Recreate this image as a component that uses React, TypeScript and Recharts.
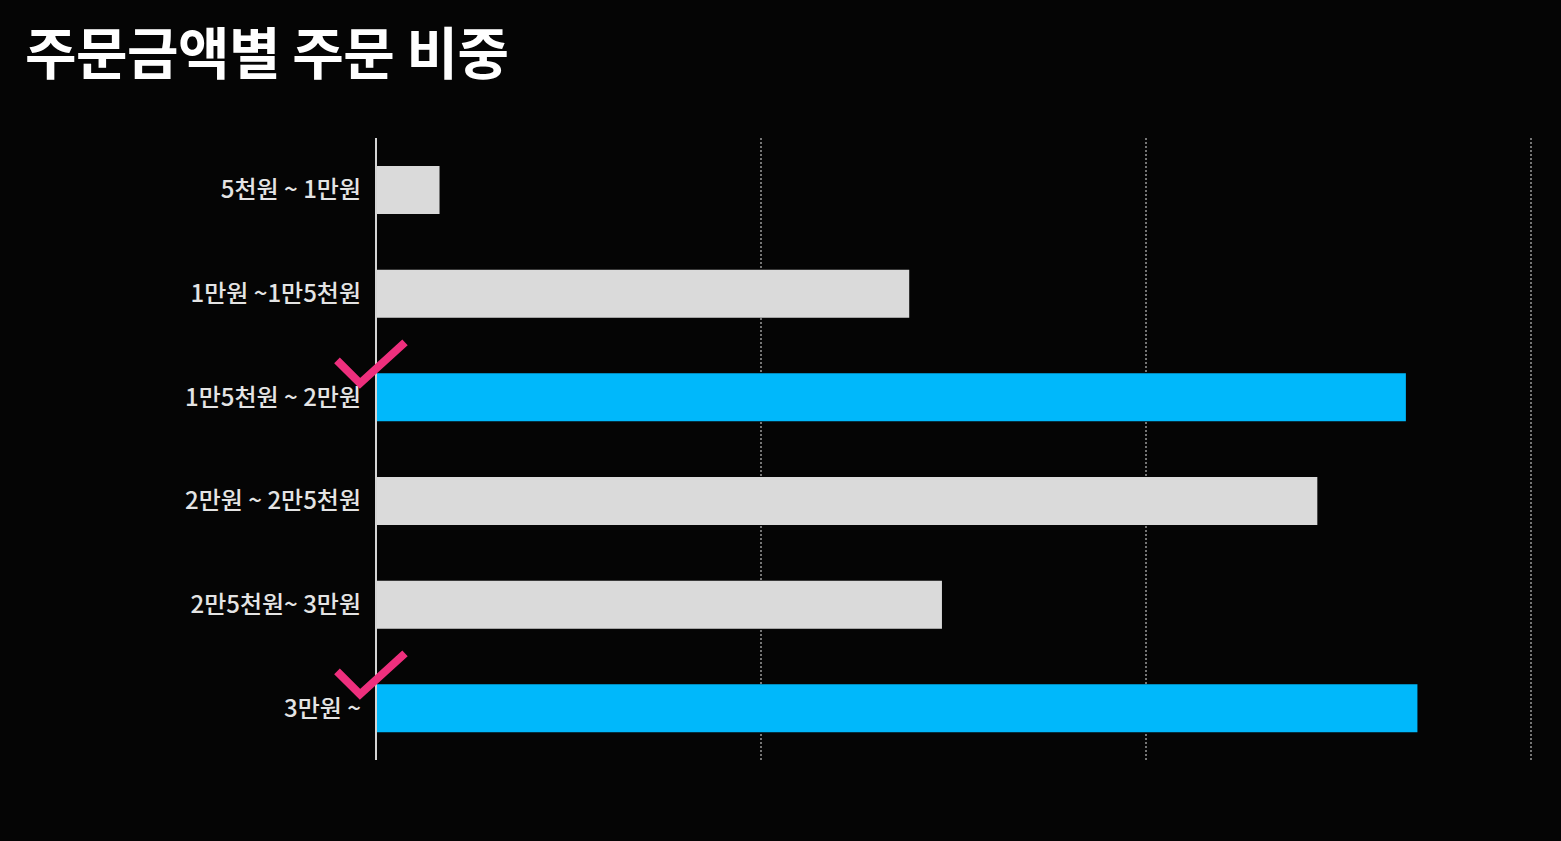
import { BarChart, Bar, XAxis, YAxis, CartesianGrid, Cell, LabelList } from 'recharts';

// order amount ranges (top to bottom)
const categories = [
  '5천원 ~ 1만원',
  '1만원 ~1만5천원',
  '1만5천원 ~ 2만원',
  '2만원 ~ 2만5천원',
  '2만5천원~ 3만원',
  '3만원 ~',
];

// share of orders (grid step = 10)
const shares = [1.65, 13.85, 26.75, 24.45, 14.7, 27.05];

// bars marked with a check
const highlighted = [false, false, true, false, false, true];

const xTicks = [0, 10, 20, 30];

const data = categories.map((range, i) => ({
  range,
  share: shares[i],
  highlight: highlighted[i],
}));

const BLUE = '#00b8fb';
const GREY = '#dadada';
const PINK = '#ee2f7d';

// check mark drawn at the left end of highlighted bars
const CheckMark = (props: any) => {
  const { x, y, index } = props;
  if (!data[index]?.highlight) return null;
  const points = `${x - 39},${y - 13} ${x - 16},${y + 10} ${x + 29},${y - 31}`;
  return (
    <polyline
      points={points}
      fill="none"
      stroke={PINK}
      strokeWidth={8}
      strokeLinecap="butt"
      strokeLinejoin="miter"
    />
  );
};

export default function App() {
  return (
    <div
      style={{
        position: 'absolute',
        left: 0,
        top: 0,
        width: 1561,
        height: 841,
        background: '#050505',
        overflow: 'hidden',
      }}
    >
      <div
        style={{
          position: 'absolute',
          left: 25,
          top: 19,
          fontFamily: '"Noto Sans CJK KR", "Noto Sans", sans-serif',
          fontWeight: 700,
          fontSize: 56,
          lineHeight: 1.1,
          letterSpacing: -0.5,
          color: '#ffffff',
        }}
      >
        주문금액별 주문 비중
      </div>
      <BarChart
        width={1561}
        height={841}
        data={data}
        layout="vertical"
        margin={{ top: 138, right: 30, bottom: 81, left: 0 }}
        style={{ position: 'absolute', left: 0, top: 0 }}
      >
        <CartesianGrid
          horizontal={false}
          stroke="#9a9a9a"
          strokeWidth={1.5}
          strokeDasharray="2 2"
        />
        <XAxis type="number" domain={[0, 30]} ticks={xTicks} hide />
        <YAxis
          type="category"
          dataKey="range"
          width={376}
          axisLine={{ stroke: '#d4d4d4', strokeWidth: 2 }}
          tickLine={false}
          tickSize={15}
          tickMargin={0}
          tick={{
            fill: '#e4e4e4',
            fontSize: 24,
            fontWeight: 500,
            fontFamily: '"Noto Sans CJK KR", "Noto Sans", sans-serif',
          }}
        />
        <Bar dataKey="share" barSize={48} isAnimationActive={false}>
          {data.map((d, i) => (
            <Cell key={`cell-${i}`} fill={d.highlight ? BLUE : GREY} />
          ))}
          <LabelList dataKey="share" content={CheckMark} />
        </Bar>
      </BarChart>
    </div>
  );
}
